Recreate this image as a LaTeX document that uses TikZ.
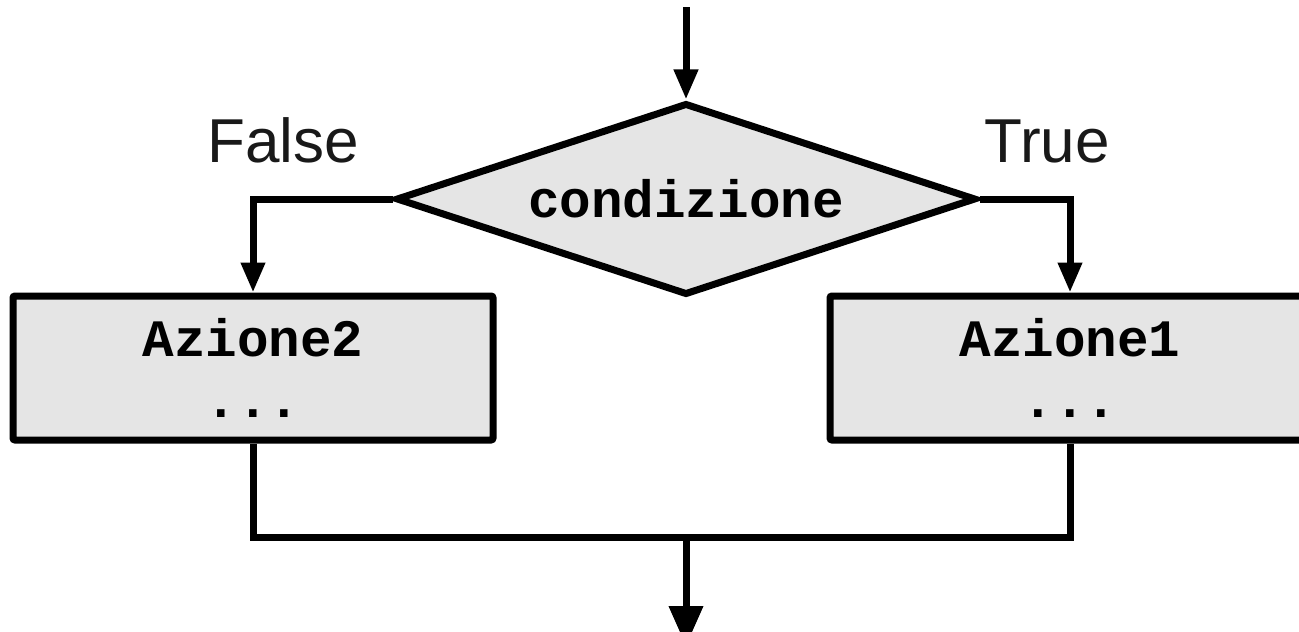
\documentclass[tikz,border=0pt]{standalone}
\usepackage{fontspec}
\setmainfont{Liberation Sans}
\newfontfamily\codefont{Liberation Mono}
\usetikzlibrary{arrows.meta,shapes.geometric}

\begin{document}
\begin{tikzpicture}[x=1pt,y=-1pt,line width=7pt,
  >={Triangle[width=23pt,length=30pt]},
  code/.style={font=\codefont\bfseries\fontsize{52.6}{61}\selectfont},
  test/.style={draw,diamond,aspect=3.02,fill=black!10,minimum width=580pt,minimum height=192pt,inner sep=0pt,code},
  action/.style={draw,rectangle,rounded corners=2pt,fill=black!10,minimum width=480pt,minimum height=144pt,inner sep=0pt,align=center,code},
  branch/.style={font=\fontsize{62}{70}\selectfont,text=black!90}]
  \useasboundingbox (0,0) rectangle (1299,632);
  \clip (0,0) rectangle (1299,632);

  \coordinate (in) at (686,7);
  \node[test] (cond) at (686,199) {condizione};
  \node[action] (az2) at (253,368) {Azione2\\...};
  \node[action] (az1) at (1070,368) {Azione1\\...};
  \node[branch,anchor=base] (lfalse) at (283,162) {False};
  \node[branch,anchor=base] (ltrue) at (1047,162) {True};
  \coordinate (merge) at (686,537);
  \coordinate (out) at (686,646);

  \draw[->] (in) -- (cond);
  \draw[->] (cond.west) -| (az2);
  \draw[->] (cond.east) -| (az1);
  \draw (az2) |- (merge) -| (az1);
  \draw[-{Triangle[width=33pt,length=40pt]}] (merge) -- (out);
\end{tikzpicture}
\end{document}
